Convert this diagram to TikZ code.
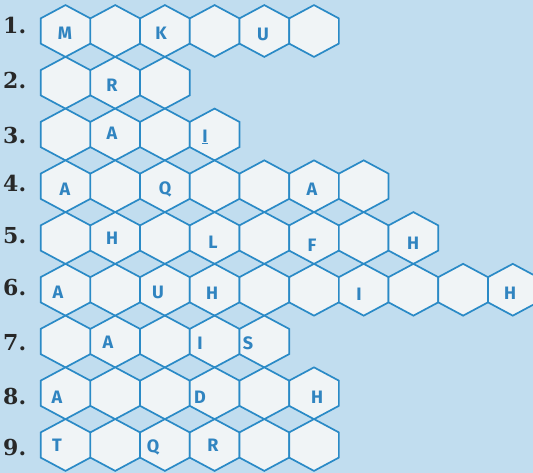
\documentclass[tikz,border=0pt]{standalone}
\usepackage{fontspec}
\newfontfamily\hexfont{Fira Sans}
\newfontfamily\numfont{DejaVu Serif}
\definecolor{bgblue}{RGB}{193,221,239}
\definecolor{hexfill}{RGB}{240,244,246}
\definecolor{hexline}{RGB}{42,138,198}
\definecolor{letterblue}{RGB}{48,132,192}
\definecolor{numgray}{RGB}{40,40,40}
\begin{document}
\begin{tikzpicture}[x=1pt,y=-1pt,
  hexcell/.style={fill=hexfill,draw=hexline,line width=1.7pt,line join=miter},
  letter/.style={text=letterblue,font=\hexfont\bfseries\fontsize{18}{18}\selectfont,inner sep=0pt},
  rowlabel/.style={text=numgray,font=\numfont\bfseries\fontsize{22}{22}\selectfont,inner sep=0pt,anchor=west}]
\fill[bgblue] (0,0) rectangle (533,473);
\useasboundingbox (0,0) rectangle (533,473);
% hexagon grid
\foreach \r/\n in {1/6,2/3,3/4,4/7,5/8,6/10,7/5,8/6,9/6}{
  \foreach \c in {1,...,\n}{
    \pgfmathsetmacro\cx{65.5+49.7*(\c-1)}
    \pgfmathsetmacro\cy{31+51.75*(\r-1)}
    \draw[hexcell,shift={(\cx,\cy)}] (0,-25.9) -- (24.85,-12.6) -- (24.85,12.6) -- (0,25.9) -- (-24.85,12.6) -- (-24.85,-12.6) -- cycle;
  }
}
% row labels
\node[rowlabel] (n1) at (3,25.5) {1.};
\node[rowlabel] (n2) at (3,80) {2.};
\node[rowlabel] (n3) at (3,135) {3.};
\node[rowlabel] (n4) at (3,183.5) {4.};
\node[rowlabel] (n5) at (3,236) {5.};
\node[rowlabel] (n6) at (3,287.5) {6.};
\node[rowlabel] (n7) at (3,343) {7.};
\node[rowlabel] (n8) at (3,396) {8.};
\node[rowlabel] (n9) at (3,447) {9.};
% letters
\node[letter] (r1a) at (65,33) {M};
\node[letter] (r1b) at (161,33) {K};
\node[letter] (r1c) at (263,34) {U};
\node[letter] (r2a) at (112,85) {R};
\node[letter] (r3a) at (112,133) {A};
\node[letter] (r3b) at (205,137) {\underline{I}};
\node[letter] (r4a) at (65,189) {A};
\node[letter] (r4b) at (165,189) {Q};
\node[letter] (r4c) at (312,189) {A};
\node[letter] (r5a) at (112,238) {H};
\node[letter] (r5b) at (213,242) {L};
\node[letter] (r5c) at (312,245) {F};
\node[letter] (r5d) at (413,243) {H};
\node[letter] (r6a) at (58,292) {A};
\node[letter] (r6b) at (158,292) {U};
\node[letter] (r6c) at (212,293) {H};
\node[letter] (r6d) at (359,294) {I};
\node[letter] (r6e) at (510,293) {H};
\node[letter] (r7a) at (108,342) {A};
\node[letter] (r7b) at (200,343) {I};
\node[letter] (r7c) at (248,343) {S};
\node[letter] (r8a) at (57,397) {A};
\node[letter] (r8b) at (200,397) {D};
\node[letter] (r8c) at (317,397) {H};
\node[letter] (r9a) at (57,445) {T};
\node[letter] (r9b) at (153,447) {Q};
\node[letter] (r9c) at (213,445) {R};
\end{tikzpicture}
\end{document}
